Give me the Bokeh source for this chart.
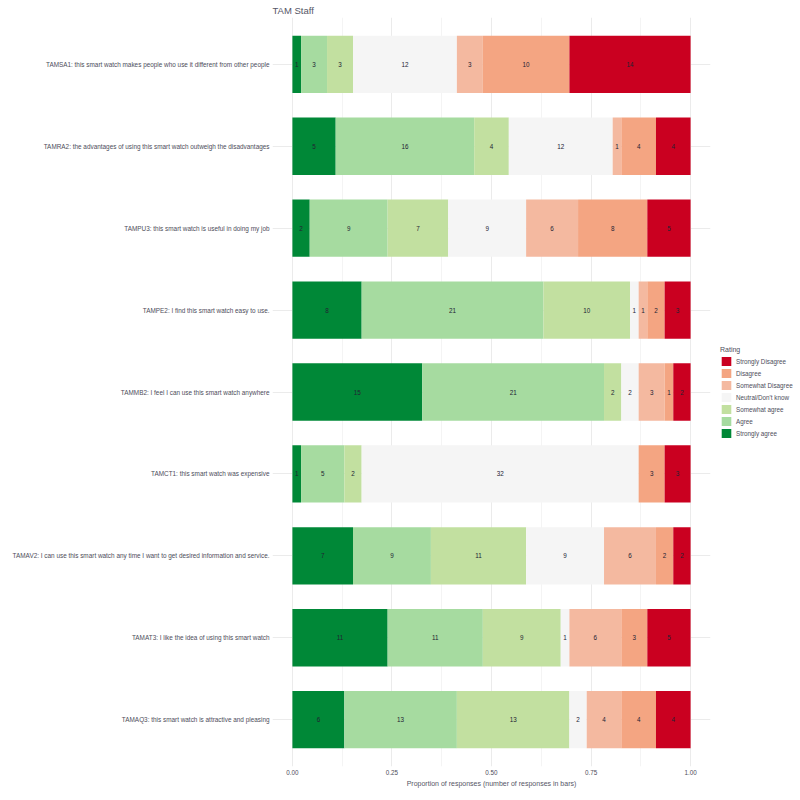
from bokeh.plotting import figure
from bokeh.models import (ColumnDataSource, FactorRange, Range1d, FixedTicker,
                          NumeralTickFormatter, Legend, LegendItem)
from bokeh.core.properties import value
from bokeh.embed import file_html
from bokeh.resources import INLINE

# Items, top to bottom as shown
items = [
    "TAMSA1: this smart watch makes people who use it different from other people",
    "TAMRA2: the advantages of using this smart watch outweigh the disadvantages",
    "TAMPU3: this smart watch is useful in doing my job",
    "TAMPE2: I find this smart watch easy to use.",
    "TAMMB2: I feel I can use this smart watch anywhere",
    "TAMCT1: this smart watch was expensive",
    "TAMAV2: I can use this smart watch any time I want to get desired information and service.",
    "TAMAT3: I like the idea of using this smart watch",
    "TAMAQ3: this smart watch is attractive and pleasing",
]

ratings = ["Strongly agree", "Agree", "Somewhat agree", "Neutral/Don't know",
           "Somewhat Disagree", "Disagree", "Strongly Disagree"]
colors = ["#008837", "#a6dba0", "#c2e0a0", "#f5f5f5", "#f4b9a0", "#f4a582", "#ca0020"]

strongly_agree    = [1, 5, 2, 8, 15, 1, 7, 11, 6]
agree             = [3, 16, 9, 21, 21, 5, 9, 11, 13]
somewhat_agree    = [3, 4, 7, 10, 2, 2, 11, 9, 13]
neutral           = [12, 12, 9, 1, 2, 32, 9, 1, 2]
somewhat_disagree = [3, 1, 6, 1, 3, 0, 6, 6, 4]
disagree          = [10, 4, 8, 2, 1, 3, 2, 3, 4]
strongly_disagree = [14, 4, 5, 3, 2, 3, 2, 5, 4]

series = [strongly_agree, agree, somewhat_agree, neutral,
          somewhat_disagree, disagree, strongly_disagree]
keys = ["s%d" % i for i in range(len(series))]

totals = [sum(s[i] for s in series) for i in range(len(items))]
data = {"item": items}
for k, s in zip(keys, series):
    data[k] = [v / t for v, t in zip(s, totals)]
src = ColumnDataSource(data)

# label positions
lx, ly, lt = [], [], []
for i, it in enumerate(items):
    cum = 0.0
    for s in series:
        frac = s[i] / totals[i]
        if s[i] > 0:
            lx.append(cum + frac / 2)
            ly.append(it)
            lt.append(str(s[i]))
        cum += frac
lsrc = ColumnDataSource(dict(x=lx, y=ly, t=lt))

FONT = "Liberation Sans"

p = figure(frame_width=438, frame_height=749, output_backend="svg", toolbar_location=None,
           y_range=FactorRange(factors=list(reversed(items)), range_padding=0.016),
           x_range=Range1d(-0.05, 1.05),
           min_border_left=272, min_border_right=0, min_border_top=17,
           min_border_bottom=34, title="TAM Staff")

rends = p.hbar_stack(keys, y="item", height=0.7, color=colors, source=src,
                     line_color=None)

p.text(x="x", y="y", text="t", source=lsrc, text_align="center",
       text_baseline="middle", text_font_size="6.3px", text_color="#222233",
       text_font=value(FONT))

legend = Legend(items=[LegendItem(label=ratings[i], renderers=[rends[i]])
                       for i in reversed(range(len(ratings)))],
                location="center_left", title="Rating")
legend.title_text_font_size = "7px"
legend.title_text_font_style = "normal"
legend.title_text_color = "#4d4d5a"
legend.title_text_font = FONT
legend.title_standoff = 3
legend.label_text_font_size = "6.3px"
legend.label_text_color = "#4d4d5a"
legend.label_text_font = FONT
legend.glyph_width = 12
legend.glyph_height = 11
legend.label_height = 11
legend.label_standoff = 4
legend.spacing = 1
legend.padding = 0
legend.margin = 10
legend.background_fill_alpha = 0
legend.border_line_color = None
p.add_layout(legend, "right")

p.title.text_font = FONT
p.title.text_font_size = "9.5px"
p.title.text_font_style = "normal"
p.title.text_color = "#555566"
p.title.align = "left"
p.title.standoff = 4

p.xaxis.ticker = FixedTicker(ticks=[0, 0.25, 0.5, 0.75, 1.0],
                             minor_ticks=[0.125, 0.375, 0.625, 0.875])
p.xaxis.formatter = NumeralTickFormatter(format="0.00")
p.xaxis.axis_label = "Proportion of responses (number of responses in bars)"
p.xaxis.axis_label_text_font = FONT
p.xaxis.axis_label_text_font_size = "7px"
p.xaxis.axis_label_text_font_style = "normal"
p.xaxis.axis_label_text_color = "#555566"
p.xaxis.axis_label_standoff = 2

for ax in (p.xaxis, p.yaxis):
    ax.axis_line_color = None
    ax.major_tick_line_color = None
    ax.minor_tick_line_color = None
    ax.major_tick_out = 0
    ax.minor_tick_out = 0
    ax.major_label_text_font = FONT
    ax.major_label_text_color = "#4d4d5a"
    ax.major_label_standoff = 3
p.xaxis.major_label_text_font_size = "6.3px"
p.yaxis.major_label_text_font_size = "6.4px"

p.xgrid.grid_line_color = "#ebebeb"
p.xgrid.minor_grid_line_color = "#f4f4f4"
p.ygrid.grid_line_color = "#ebebeb"
p.outline_line_color = None

open("out.html", "w").write(file_html(p, INLINE))
